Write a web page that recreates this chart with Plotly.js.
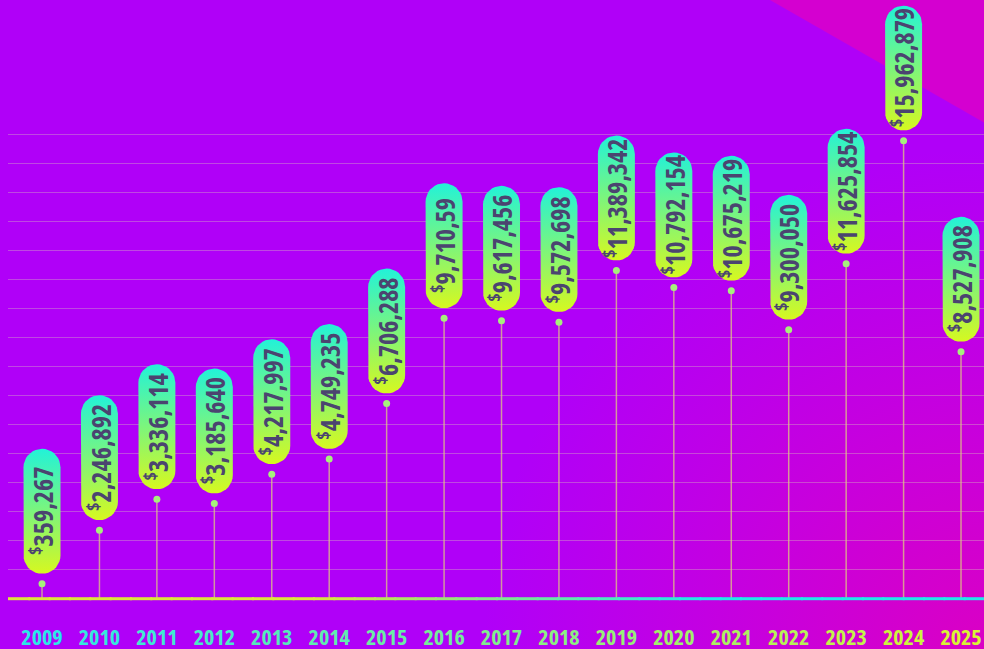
<!DOCTYPE html>
<html>
<head>
<meta charset="utf-8">
<script src="https://cdn.plot.ly/plotly-3.0.1.min.js"></script>
<style>
  html, body { margin: 0; padding: 0; }
  #chart {
    width: 984px; height: 649px;
    background: radial-gradient(circle at 100% 100%, #da00c4 0px, #c800dc 220px, #b000f8 500px);
  }
  #chart svg text { font-stretch: 75%; }
</style>
</head>
<body>
<div id="chart"></div>
<script>
// ---- data ----
const years = [2009, 2010, 2011, 2012, 2013, 2014, 2015, 2016, 2017, 2018, 2019, 2020, 2021, 2022, 2023, 2024, 2025];
const values = [359267, 2246892, 3336114, 3185640, 4217997, 4749235, 6706288, 9710590, 9617456, 9572698, 11389342, 10792154, 10675219, 9300050, 11625854, 15962879, 8527908];
const valueLabels = ['359,267', '2,246,892', '3,336,114', '3,185,640', '4,217,997', '4,749,235', '6,706,288', '9,710,59', '9,617,456', '9,572,698', '11,389,342', '10,792,154', '10,675,219', '9,300,050', '11,625,854', '15,962,879', '8,527,908'];
const tickLabels = ['2009', '2010', '2011', '2012', '2013', '2014', '2015', '2016', '2017', '2018', '2019', '2020', '2021', '2022', '2023', '2024', '2025'];

// ---- layout geometry ----
const W = 984, H = 649;
const M = {l: 8, r: 0, t: 0, b: 48};
const plotW = W - M.l - M.r, plotH = H - M.t - M.b;
const xRange = [2008.408, 2025.40];
const yRange = [-246500, 20915000];
const baseV = -165500;   // where the baseline sits
const pxPerX = plotW / (xRange[1] - xRange[0]);
const pxPerY = plotH / (yRange[1] - yRange[0]);

const FONT = '"Open Sans", "Roboto", sans-serif';

function hex(c) { return [parseInt(c.slice(1,3),16), parseInt(c.slice(3,5),16), parseInt(c.slice(5,7),16)]; }
function mix(a, b, t) {
  const A = hex(a), B = hex(b);
  return 'rgb(' + A.map((v, k) => Math.round(v + (B[k] - v) * t)).join(',') + ')';
}

// gridlines: fixed pixel spacing above the baseline
const gridVals = [];
for (let k = 1; k <= 16; k++) gridVals.push(baseV + k * 29 / pxPerY);

// pills
const R = 18.5, L = 125, GAP = 10;
const cOff = GAP + L / 2;
const half = L / 2 - R;
const traces = [];

// stems
const stemX = [], stemY = [];
years.forEach((yr, i) => { stemX.push(yr, yr, null); stemY.push(values[i], baseV, null); });
traces.push({type: 'scatter', mode: 'lines', x: stemX, y: stemY, line: {color: 'rgba(220,200,130,0.75)', width: 1.5}, hoverinfo: 'skip', cliponaxis: false});

// dots
traces.push({type: 'scatter', mode: 'markers', x: years, y: values, marker: {size: 7, color: '#a6f07c'}, hoverinfo: 'skip', cliponaxis: false});

years.forEach((yr, i) => {
  const px = [], py = [];
  for (let a = 0; a <= 180; a += 10) {
    const r = a * Math.PI / 180;
    px.push(yr + R * Math.cos(r) / pxPerX);
    py.push(values[i] + (cOff + half + R * Math.sin(r)) / pxPerY);
  }
  for (let a = 180; a <= 360; a += 10) {
    const r = a * Math.PI / 180;
    px.push(yr + R * Math.cos(r) / pxPerX);
    py.push(values[i] + (cOff - half + R * Math.sin(r)) / pxPerY);
  }
  traces.push({
    type: 'scatter', mode: 'lines', x: px, y: py, fill: 'toself',
    fillgradient: {type: 'vertical', colorscale: [[0, '#d6f820'], [1, '#22f2d8']]},
    line: {width: 0, color: 'rgba(0,0,0,0)'}, hoverinfo: 'skip', cliponaxis: false
  });
});

const annotations = years.map((yr, i) => ({
  x: yr, y: values[i], yshift: cOff, xref: 'x', yref: 'y',
  text: '<sup>$</sup>' + valueLabels[i], textangle: -90, showarrow: false,
  xanchor: 'center', yanchor: 'middle',
  font: {family: FONT, size: 26, color: '#4b4470', weight: 700}
}));

const tickText = tickLabels.map((t, i) => '<span style="color:' + mix('#2ae8e8', '#d8f434', i / (tickLabels.length - 1)) + '">' + t + '</span>');

// decorative corner triangle and baseline with a yellow -> cyan gradient
const shapes = [{
  type: 'path', xref: 'paper', yref: 'paper', layer: 'below',
  path: 'M ' + ((770 - M.l) / plotW) + ',1 L 1.001,1 L 1.001,' + (1 - 123 / plotH) + ' Z',
  fillcolor: '#d400d0', line: {width: 0}
}];
const NSEG = 48;
for (let s = 0; s < NSEG; s++) {
  const t = Math.min(1, Math.max(0, (s / NSEG - 0.3) / 0.4));
  shapes.push({type: 'line', xref: 'paper', yref: 'y', x0: s / NSEG, x1: (s + 1) / NSEG + 0.002, y0: baseV, y1: baseV,
    line: {color: mix('#dce43c', '#22e8e8', t), width: 3}, layer: 'above'});
}

const layout = {
  width: W, height: H, margin: M,
  paper_bgcolor: 'rgba(0,0,0,0)', plot_bgcolor: 'rgba(0,0,0,0)',
  showlegend: false, hovermode: false,
  xaxis: {range: xRange, tickvals: years, ticktext: tickText, showgrid: false, zeroline: false, showline: false,
    ticks: '', ticklabelstandoff: 21, ticklabeloverflow: 'allow', tickfont: {family: FONT, size: 22, weight: 700, color: '#60f0b0'}, fixedrange: true},
  yaxis: {range: yRange, tickvals: gridVals, showticklabels: false, showgrid: true, gridcolor: 'rgba(215,190,190,0.38)', gridwidth: 1,
    zeroline: false, showline: false, ticks: '', fixedrange: true},
  shapes: shapes,
  annotations: annotations
};

Plotly.newPlot('chart', traces, layout, {staticPlot: true, displayModeBar: false});
</script>
</body>
</html>
